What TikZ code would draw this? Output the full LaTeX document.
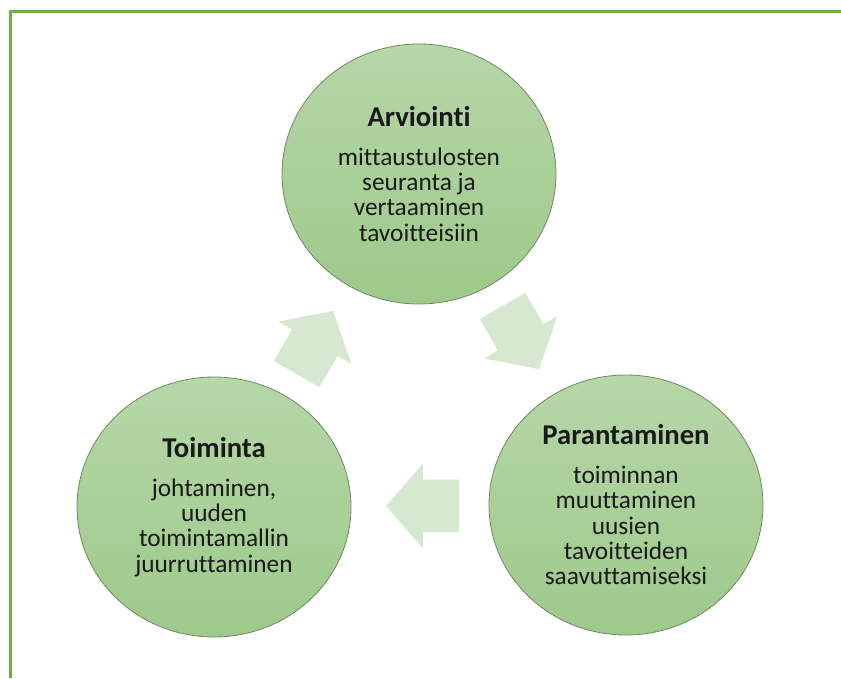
\documentclass[tikz,border=0pt]{standalone}
\usepackage{fontspec}
\setmainfont{Carlito}[Ligatures=NoCommon]
\usetikzlibrary{shapes.geometric, shapes.arrows, calc, positioning}

\definecolor{kehys}{HTML}{70AD47}
\definecolor{ympyraYla}{HTML}{B6D7A8}
\definecolor{ympyraAla}{HTML}{9DC98A}
\definecolor{ympyraReuna}{HTML}{6F8A62}
\definecolor{nuoliVari}{HTML}{D6E8CF}

\tikzstyle{vaihe} = [ellipse, minimum width=205.5pt, minimum height=195pt, inner sep=0pt,
align=center, text=black!90, draw=ympyraReuna, line width=0.6pt,
top color=ympyraYla, bottom color=ympyraAla, font=\fontsize{19}{19}\selectfont]
\tikzstyle{nuoli} = [single arrow, draw=none, fill=nuoliVari, minimum height=54.75pt,
minimum width=63pt, inner xsep=0pt, inner ysep=19.5pt, single arrow head extend=12pt,
single arrow tip angle=98]
\newcommand{\otsikko}[1]{{\fontsize{21.5}{22}\selectfont\bfseries #1}}

\begin{document}
\begin{tikzpicture}[x=0.75pt, y=-0.75pt]
  \useasboundingbox (0,0) rectangle (841,678);
  \draw [kehys, line width=2.25pt] (10.5,678) -- (10.5,11.5) -- (841,11.5);

  \node (arv) [vaihe] at (419,174) {\otsikko{Arviointi} \\[10pt] mittaustulosten \\ seuranta ja \\ vertaaminen \\ tavoitteisiin};
  \node (par) [vaihe] at (626,505) {\otsikko{Parantaminen} \\[10pt] toiminnan \\ muuttaminen \\ uusien \\ tavoitteiden \\ saavuttamiseksi};
  \node (toim) [vaihe] at (214,507) {\otsikko{Toiminta} \\[10pt] johtaminen, \\ uuden \\ toimintamallin \\ juurruttaminen};

  \node (n1) [nuoli, rotate=-60] at ($(arv)!0.5!(par)!10.5pt!(arv)$) {};
  \node (n2) [nuoli, rotate=180] at ($(par)!0.5!(toim)!10.5pt!(par)$) {};
  \node (n3) [nuoli, rotate=60] at ($(toim)!0.5!(arv)!10.5pt!(toim)$) {};
\end{tikzpicture}
\end{document}
